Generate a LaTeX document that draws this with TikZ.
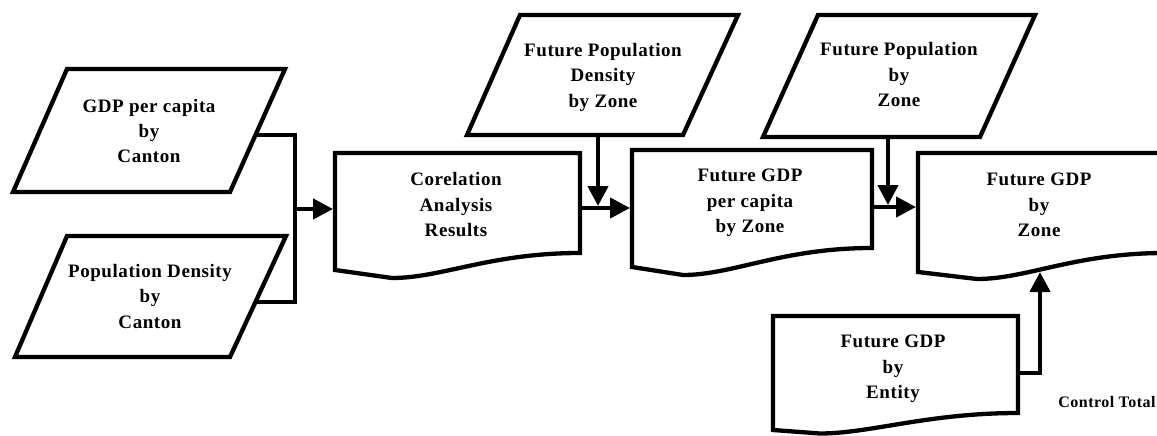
\documentclass[tikz,border=0pt]{standalone}
\usepackage{fontspec}
\setmainfont{Liberation Serif}[LetterSpace=3]
\usetikzlibrary{arrows.meta}

% document symbol: left, top, right, bottom-left y, dip x, dip y, bottom-right y
\newcommand\docsymbol[7]{%
  \draw[outline] (#1,#4) -- (#1,#2) -- (#3,#2) -- (#3,#7)
    .. controls (#3-90,#7) and (#5+50,#6) .. (#5,#6) -- cycle;}

\begin{document}
\begin{tikzpicture}[x=1pt,y=-1pt,
  outline/.style={draw=black, line width=4.3pt, line join=miter, fill=white},
  boxtext/.style={font=\bfseries\fontsize{19}{25.5}\selectfont, align=center, inner sep=0pt},
  notetext/.style={font=\bfseries\fontsize{16}{18}\selectfont, inner sep=0pt},
  link/.style={line width=4.3pt},
  flow/.style={line width=4.3pt, -{Triangle[length=20pt,width=20pt]}},
]
\useasboundingbox (0,0) rectangle (1157,436);
\clip (0,0) rectangle (1157,436);

% input data (parallelograms)
\draw[outline] (13,192) -- (67,69) -- (285,69) -- (230,192) -- cycle;
\draw[outline] (15,357) -- (67,236) -- (286,236) -- (230,357) -- cycle;
\draw[outline] (467,135) -- (520,15) -- (738,15) -- (683,135) -- cycle;
\draw[outline] (763,137) -- (818,15) -- (1035,15) -- (980,137) -- cycle;

% documents
\docsymbol{335}{153}{580}{270}{392}{278}{253}
\docsymbol{632}{150}{872}{267}{683}{275}{248}
\docsymbol{918}{153}{1165}{272}{977}{279}{253}
\docsymbol{773}{316}{1018}{430}{820}{433.5}{413}

% texts
\node[boxtext] (gdpc)   at (149,131)  {GDP per capita\\by\\Canton};
\node[boxtext] (popc)   at (150,296)  {Population Density\\by\\Canton};
\node[boxtext] (corr)   at (456,205)  {Corelation\\Analysis\\Results};
\node[boxtext] (fpd)    at (603,77)   {Future Population\\Density\\by Zone};
\node[boxtext] (fgdppc) at (750,203)  {Future GDP\\per capita\\by Zone};
\node[boxtext] (fpop)   at (899,75)   {Future Population\\by\\Zone};
\node[boxtext] (fgdpz)  at (1039,205) {Future GDP\\by\\Zone};
\node[boxtext] (fgdpe)  at (893,369)  {Future GDP\\by\\Entity};
\node[notetext] (ctrl)  at (1107,402) {Control Total};

% connector end points on the symbol outlines
\coordinate (gdpc-out)   at (255.5,135);
\coordinate (popc-out)   at (255.5,302);
\coordinate (join1)      at (295,209);
\coordinate (corr-in)    at (333,209);
\coordinate (corr-out)   at (580,208);
\coordinate (fpd-out)    at (598,135);
\coordinate (join2)      at (598,206);
\coordinate (fgdppc-in)  at (630,208);
\coordinate (fgdppc-out) at (872,207);
\coordinate (fpop-out)   at (888,137);
\coordinate (join3)      at (888,205);
\coordinate (fgdpz-in)   at (916,207);
\coordinate (fgdpe-out)  at (1018,373);
\coordinate (fgdpz-bot)  at (1040,272);

% connectors
\draw[link] (gdpc-out) -- (join1 |- gdpc-out) -- (join1 |- popc-out) -- (popc-out);
\draw[flow] (join1) -- (corr-in);
\draw[flow] (corr-out) -- (fgdppc-in);
\draw[flow] (fpd-out) -- (join2);
\draw[flow] (fgdppc-out) -- (fgdpz-in);
\draw[flow] (fpop-out) -- (join3);
\draw[flow] (fgdpe-out) -| (fgdpz-bot);
\end{tikzpicture}
\end{document}
